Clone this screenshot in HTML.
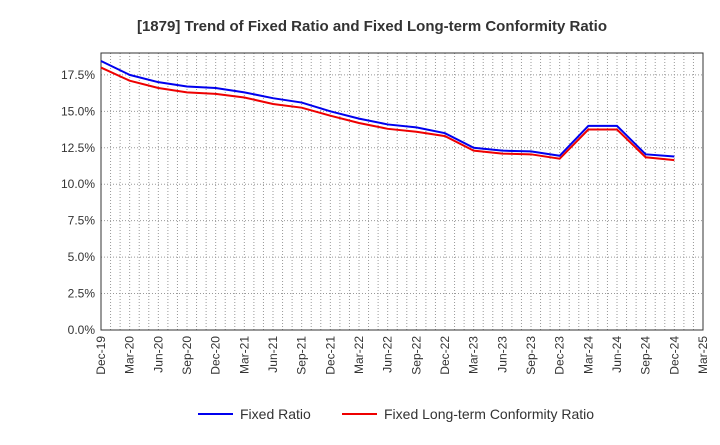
<!DOCTYPE html>
<html><head><meta charset="utf-8"><style>
body{margin:0;background:#fff;font-family:"Liberation Sans",sans-serif}
</style></head><body>
<svg width="720" height="440" xmlns="http://www.w3.org/2000/svg">
<text x="372" y="31" text-anchor="middle" font-size="15" font-weight="bold" fill="#333">[1879]  Trend of Fixed Ratio and Fixed Long-term Conformity Ratio</text>
<g id="grid"></g><g id="axes"></g><g id="series"></g>
<g>
<line x1="198" y1="414" x2="233" y2="414" stroke="#0000ee" stroke-width="2"/>
<text x="240" y="419" font-size="14" fill="#333">Fixed Ratio</text>
<line x1="342" y1="414" x2="377" y2="414" stroke="#ee0000" stroke-width="2"/>
<text x="384" y="419" font-size="14" fill="#333">Fixed Long-term Conformity Ratio</text>
</g>
</svg>
<script>
const categories=["Dec-19","Mar-20","Jun-20","Sep-20","Dec-20","Mar-21","Jun-21","Sep-21","Dec-21","Mar-22","Jun-22","Sep-22","Dec-22","Mar-23","Jun-23","Sep-23","Dec-23","Mar-24","Jun-24","Sep-24","Dec-24","Mar-25"];
const fixedRatio=[18.45,17.5,17.0,16.7,16.6,16.3,15.9,15.6,15.0,14.5,14.1,13.9,13.5,12.5,12.3,12.25,11.95,14.0,14.0,12.05,11.9];
const conformityRatio=[18.0,17.1,16.6,16.3,16.2,15.95,15.5,15.25,14.7,14.2,13.8,13.6,13.3,12.3,12.1,12.05,11.75,13.75,13.75,11.85,11.65];
const yTicks=[0,2.5,5,7.5,10,12.5,15,17.5];
const L=101,R=703,T=53,B=330,YMAX=19;
const ns="http://www.w3.org/2000/svg";
const xs=i=>L+(R-L)*i/(categories.length-1);
const ys=v=>B-(B-T)*v/YMAX;
function mk(tag,attrs,parent){const e=document.createElementNS(ns,tag);for(const k in attrs)e.setAttribute(k,attrs[k]);document.getElementById(parent).appendChild(e);return e;}
for(let m=1;m<(categories.length-1)*3;m++){const x=L+(R-L)*m/((categories.length-1)*3);
const g=mk("line",{x1:x,x2:x,y1:T,y2:B,stroke:"#999","stroke-dasharray":"1,2","stroke-width":1},"grid");

}
yTicks.forEach(v=>{const y=ys(v);
if(v>0){const g=mk("line",{x1:L,x2:R,y1:y,y2:y,stroke:"#999","stroke-dasharray":"1,2"},"grid");

}
const t=mk("text",{x:L-6,y:y+4,"text-anchor":"end","font-size":12,fill:"#333"},"axes");t.textContent=v.toFixed(1)+"%";

});
const fr=mk("rect",{x:L,y:T,width:R-L,height:B-T,fill:"none",stroke:"#333","stroke-width":1},"axes");


categories.forEach((c,i)=>{const x=xs(i);const t=mk("text",{x:x+4,y:B+6,"text-anchor":"end","font-size":12,fill:"#333",transform:`rotate(-90 ${x+4} ${B+6})`},"axes");t.textContent=c;

});
function line(data,color,name){const p=mk("polyline",{points:data.map((v,i)=>xs(i)+","+ys(v)).join(" "),fill:"none",stroke:color,"stroke-width":2},"series");

}
line(conformityRatio,"#ee0000","conformity-ratio-line");
line(fixedRatio,"#0000ee","fixed-ratio-line");
</script>
</body></html>
